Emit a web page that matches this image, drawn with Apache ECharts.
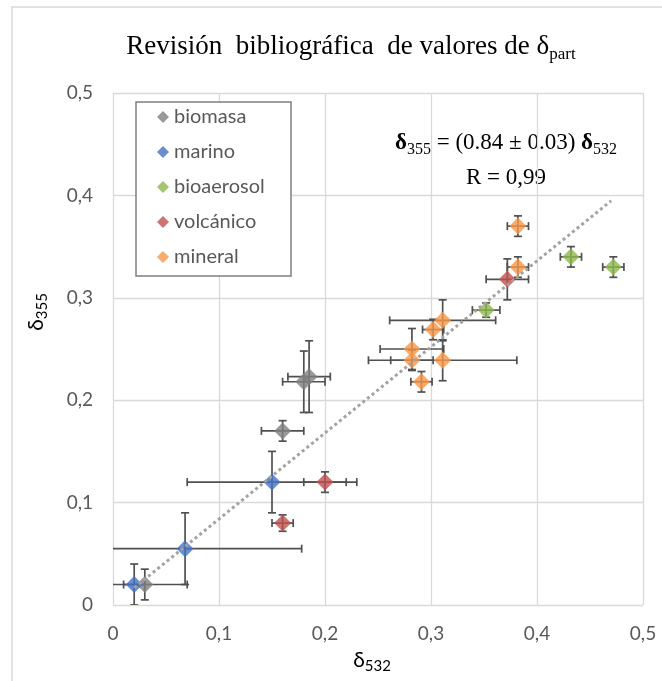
<!DOCTYPE html>
<html>
<head>
<meta charset="utf-8">
<script src="https://cdn.jsdelivr.net/npm/echarts@6/dist/echarts.min.js"></script>
<style>html,body{margin:0;padding:0;background:#fff;}#c{width:662px;height:681px;}</style>
</head>
<body>
<div id="c"></div>
<script>
// ---- data: [x (δ532), y (δ355), x error, y error] ----
const seriesNames = ['biomasa', 'marino', 'bioaerosol', 'volcánico', 'mineral'];
const biomasa = [[0.03, 0.02, 0.04, 0.015], [0.16, 0.17, 0.02, 0.01], [0.18, 0.218, 0.02, 0.03], [0.185, 0.223, 0.02, 0.035]];
const marino = [[0.02, 0.02, 0.01, 0.02], [0.068, 0.055, 0.11, 0.035], [0.15, 0.12, 0.08, 0.03]];
const bioaerosol = [[0.352, 0.288, 0.013, 0.007], [0.432, 0.34, 0.01, 0.01], [0.472, 0.33, 0.01, 0.01]];
const volcanico = [[0.16, 0.08, 0.01, 0.008], [0.2, 0.12, 0.02, 0.01], [0.372, 0.318, 0.02, 0.02]];
const mineral = [[0.382, 0.37, 0.01, 0.01], [0.382, 0.33, 0.01, 0.01], [0.311, 0.278, 0.05, 0.02], [0.302, 0.269, 0.01, 0.01],
                 [0.282, 0.25, 0.03, 0.02], [0.282, 0.239, 0.02, 0.01], [0.311, 0.239, 0.07, 0.02], [0.291, 0.218, 0.01, 0.01]];
const fitSlope = 0.84;
const fitRange = [0.02, 0.47];
const xTickLabels = ['0', '0,1', '0,2', '0,3', '0,4', '0,5'];
const yTickLabels = ['0', '0,1', '0,2', '0,3', '0,4', '0,5'];

const colors = ['#808080', '#4472C4', '#8DB84A', '#C0504D', '#F79646'];
const allData = [biomasa, marino, bioaerosol, volcanico, mineral];
const textColor = '#595959';
const sansFont = 'Lato';
const serifFont = 'Liberation Serif';

function errRender(params, api) {
  const x = api.value(0), y = api.value(1), ex = api.value(2), ey = api.value(3);
  const l = api.coord([x - ex, y]), r = api.coord([x + ex, y]);
  const t = api.coord([x, y + ey]), b = api.coord([x, y - ey]);
  const cap = 4;
  const st = { stroke: '#505050', lineWidth: 1.7 };
  const lines = [
    [l[0], l[1], r[0], r[1]],
    [l[0], l[1] - cap, l[0], l[1] + cap],
    [r[0], r[1] - cap, r[0], r[1] + cap],
    [t[0], t[1], b[0], b[1]],
    [t[0] - cap, t[1], t[0] + cap, t[1]],
    [b[0] - cap, b[1], b[0] + cap, b[1]]
  ];
  return {
    type: 'group',
    children: lines.map(p => ({ type: 'line', shape: { x1: p[0], y1: p[1], x2: p[2], y2: p[3] }, style: st }))
  };
}

const series = [];
allData.forEach((d, i) => {
  series.push({
    name: 'err-' + seriesNames[i], type: 'custom', renderItem: errRender, data: d, clip: true,
    encode: { x: 0, y: 1 }, silent: true, z: 2
  });
  series.push({
    name: seriesNames[i], type: 'scatter', data: d.map(p => [p[0], p[1]]), symbol: 'diamond', symbolSize: 17,
    itemStyle: { color: colors[i] }, z: 2
  });
});
series.push({
  name: 'fit', type: 'line', data: fitRange.map(x => [x, fitSlope * x]), symbol: 'none', z: 3,
  lineStyle: { color: '#a3a3a3', width: 3, type: [3, 3], cap: 'butt' }, silent: true
});

const subRich = {
  n: { fontFamily: serifFont, fontSize: 27, color: textColor, lineHeight: 34 },
  s: { fontFamily: serifFont, fontSize: 17, color: textColor, lineHeight: 18, padding: [16, 0, 0, 0] },
  db: { fontFamily: serifFont, fontSize: 23, fontWeight: 'bold', color: textColor, lineHeight: 30 },
  dn: { fontFamily: serifFont, fontSize: 23, color: textColor, lineHeight: 30 },
  ds: { fontFamily: serifFont, fontSize: 16, color: textColor, lineHeight: 16, padding: [14, 0, 0, 0] },
  an: { fontFamily: sansFont, fontSize: 21, color: textColor, lineHeight: 28 },
  as: { fontFamily: sansFont, fontSize: 15, color: textColor, lineHeight: 16, padding: [12, 0, 0, 0] }
};

const chart = echarts.init(document.getElementById('c'), null, { renderer: 'canvas' });
chart.setOption({
  animation: false,
  grid: { left: 113, top: 93, right: 19, bottom: 76 },
  xAxis: {
    type: 'value', min: 0, max: 0.5, interval: 0.1,
    axisLine: { show: false }, axisTick: { show: false },
    splitLine: { show: true, lineStyle: { color: '#d9d9d9', width: 1.3 } },
    axisLabel: { margin: 19, color: textColor, fontFamily: sansFont, fontSize: 19,
      formatter: (v) => xTickLabels[Math.round(v * 10)] }
  },
  yAxis: {
    type: 'value', min: 0, max: 0.5, interval: 0.1,
    axisLine: { show: false }, axisTick: { show: false },
    splitLine: { show: true, lineStyle: { color: '#d9d9d9', width: 1.3 } },
    axisLabel: { margin: 20, color: textColor, fontFamily: sansFont, fontSize: 19,
      formatter: (v) => yTickLabels[Math.round(v * 10)] }
  },
  legend: {
    data: seriesNames, orient: 'vertical', left: 157, top: 107, itemGap: 15,
    icon: 'diamond', itemWidth: 12, itemHeight: 12, padding: 0,
    textStyle: { color: textColor, fontFamily: sansFont, fontSize: 20, lineHeight: 20 }
  },
  graphic: [
    { type: 'rect', shape: { x: 12, y: 7, width: 700, height: 700 }, style: { fill: 'none', stroke: '#d9d9d9', lineWidth: 1.5 }, z: 0, silent: true },
    { type: 'rect', shape: { x: 136, y: 102, width: 155, height: 174 }, style: { fill: '#fff', stroke: '#7f7f7f', lineWidth: 1.5 }, z: 1, silent: true },
    { type: 'text', x: 351, y: 47, style: { text: '{n|Revisión  bibliográfica  de valores de δ}{s|part}', rich: subRich, align: 'center', verticalAlign: 'middle' }, silent: true },
    { type: 'text', x: 506, y: 143, style: { text: '{db|δ}{ds|355}{dn| = (0.84 ± 0.03) }{db|δ}{ds|532}', rich: subRich, align: 'center', verticalAlign: 'middle' }, silent: true },
    { type: 'text', x: 506, y: 178, style: { text: '{dn|R = 0,99}', rich: subRich, align: 'center', verticalAlign: 'middle' }, silent: true },
    { type: 'text', x: 372, y: 660, style: { text: '{an|δ}{as|532}', rich: subRich, align: 'center', verticalAlign: 'middle' }, silent: true },
    { type: 'text', x: 36, y: 312, rotation: Math.PI / 2, style: { text: '{an|δ}{as|355}', rich: subRich, align: 'center', verticalAlign: 'middle' }, silent: true }
  ],
  series: series
});
</script>
</body>
</html>
